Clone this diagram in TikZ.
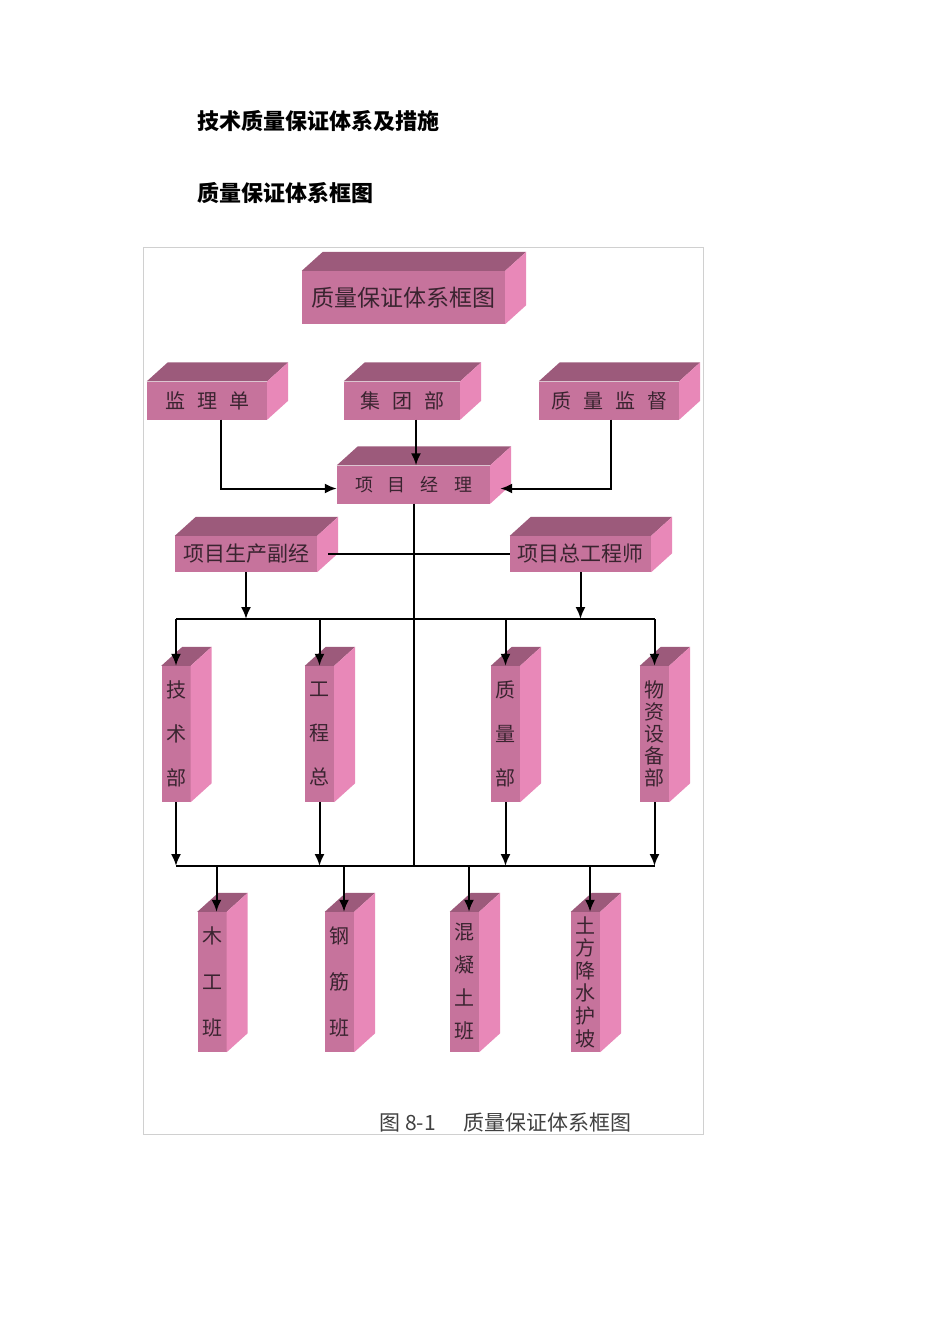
\documentclass[tikz,border=0pt]{standalone}
\usepackage{fontspec}
\usetikzlibrary{arrows.meta}
\newfontfamily\cjk{Noto Sans CJK SC}
\definecolor{facefront}{HTML}{C6739C}
\definecolor{facetop}{HTML}{9C5A7B}
\definecolor{faceside}{HTML}{E888B8}
\definecolor{boxtext}{HTML}{3A2430}
\definecolor{framegray}{HTML}{D0D0D0}
\newcommand{\boxsides}[1]{%
  \fill[facetop] (#1.north west) -- ++(21,-19) -- ([shift={(21,-19)}]#1.north east) -- (#1.north east) -- cycle;
  \fill[faceside] (#1.north east) -- ++(21,-19) -- ([shift={(21,-19)}]#1.south east) -- (#1.south east) -- cycle;}

\begin{document}
\begin{tikzpicture}[x=1pt,y=-1pt,
  front/.style={fill=facefront,text=boxtext,inner sep=0pt,font=\cjk},
  wide/.style={front,minimum height=38pt,font=\cjk\fontsize{20}{20}\selectfont},
  col/.style={front,minimum width=29pt,minimum height=136pt,align=center},
  arr/.style={line width=2pt,-{Latex[length=12pt,width=10pt]}},
  bus/.style={line width=2pt}]
\useasboundingbox (0,0) rectangle (950,1344);
\node[anchor=west,font=\cjk\bfseries\fontsize{22}{22}\selectfont] (head) at (194,121) {技术质量保证体系及措施};
\node[anchor=west,font=\cjk\bfseries\fontsize{22}{22}\selectfont] (sub) at (194,193) {质量保证体系框图};
\draw[framegray] (143,247) rectangle (703,1134);

% boxes
\node[front,minimum width=203pt,minimum height=53pt,font=\cjk\fontsize{23}{23}\selectfont] (title) at (403.5,297.5) {质量保证体系框图\hspace{10pt}};
\node[wide,minimum width=120pt] (jl) at (207,400.5) {监\hspace{12pt}理\hspace{12pt}单};
\node[wide,minimum width=116pt] (jt) at (402,400.5) {集\hspace{12pt}团\hspace{12pt}部};
\node[wide,minimum width=140pt] (zj) at (609,400.5) {质\hspace{12pt}量\hspace{12pt}监\hspace{12pt}督};
\node[wide,minimum width=153pt,font=\cjk\fontsize{18}{18}\selectfont] (xm) at (413.5,484.5) {项\hspace{15pt}目\hspace{15pt}经\hspace{15pt}理};
\node[wide,minimum width=142pt,minimum height=36pt,font=\cjk\fontsize{21}{21}\selectfont] (fj) at (246,554) {项目生产副经};
\node[wide,minimum width=141pt,minimum height=36pt,font=\cjk\fontsize{21}{21}\selectfont] (zg) at (580.5,554) {项目总工程师};

\node[col,font=\cjk\fontsize{20}{44}\selectfont] (js) at (176,734) {技\\术\\部};
\node[col,font=\cjk\fontsize{20}{44}\selectfont] (gc) at (319.5,734) {工\\程\\总};
\node[col,font=\cjk\fontsize{20}{44}\selectfont] (zl) at (505.5,734) {质\\量\\部};
\node[col,font=\cjk\fontsize{20}{22}\selectfont] (wz) at (654.5,734) {物\\资\\设\\备\\部};

\node[col,minimum height=140pt,font=\cjk\fontsize{20}{46}\selectfont] (mg) at (212,982) {木\\工\\班};
\node[col,minimum height=140pt,font=\cjk\fontsize{20}{46}\selectfont] (gj) at (339.5,982) {钢\\筋\\班};
\node[col,minimum height=140pt,font=\cjk\fontsize{20}{33}\selectfont] (hn) at (464.5,982) {混\\凝\\土\\班};
\node[col,minimum height=140pt,font=\cjk\fontsize{20}{22.6}\selectfont] (tf) at (585.5,982) {土\\方\\降\\水\\护\\坡};

\foreach \b in {title,jl,jt,zj,xm,fj,zg,js,gc,zl,wz,mg,gj,hn,tf} {\boxsides{\b}}

% lines
\coordinate (bus1) at (413,619);
\coordinate (bus2) at (413,866);
\draw[arr] ([xshift=14pt]jl.south) |- ([yshift=-4pt]xm.west);
\draw[arr] ([xshift=14pt]jt.south) -- ([xshift=14pt]jt.south |- xm.north);
\draw[arr] ([xshift=2pt]zj.south) |- ([xshift=10pt,yshift=-4pt]xm.east);
\draw[bus] (xm.south) -- (xm.south |- bus2);
\draw[bus] ([xshift=11pt]fj.east) -- (zg.west);
\draw[arr] (fj.south) -- (fj.south |- bus1);
\draw[arr] (zg.south) -- (zg.south |- bus1);
\draw[bus] (js.north |- bus1) -- (wz.north |- bus1);
\draw[bus] (js.south |- bus2) -- (wz.south |- bus2);
\foreach \b in {js,gc,zl,wz} {
  \draw[arr] (\b.north |- bus1) -- (\b.north);
  \draw[arr] (\b.south) -- (\b.south |- bus2);
}
\foreach \b in {mg,gj,hn,tf}
  \draw[arr] ([xshift=4.5pt]\b.north |- bus2) -- ([xshift=4.5pt]\b.north);

\node[anchor=west,font=\cjk\fontsize{21}{21}\selectfont,text=black!75] (cap) at (376,1122) {图 8-1\hspace{28pt}质量保证体系框图};
\end{tikzpicture}
\end{document}
